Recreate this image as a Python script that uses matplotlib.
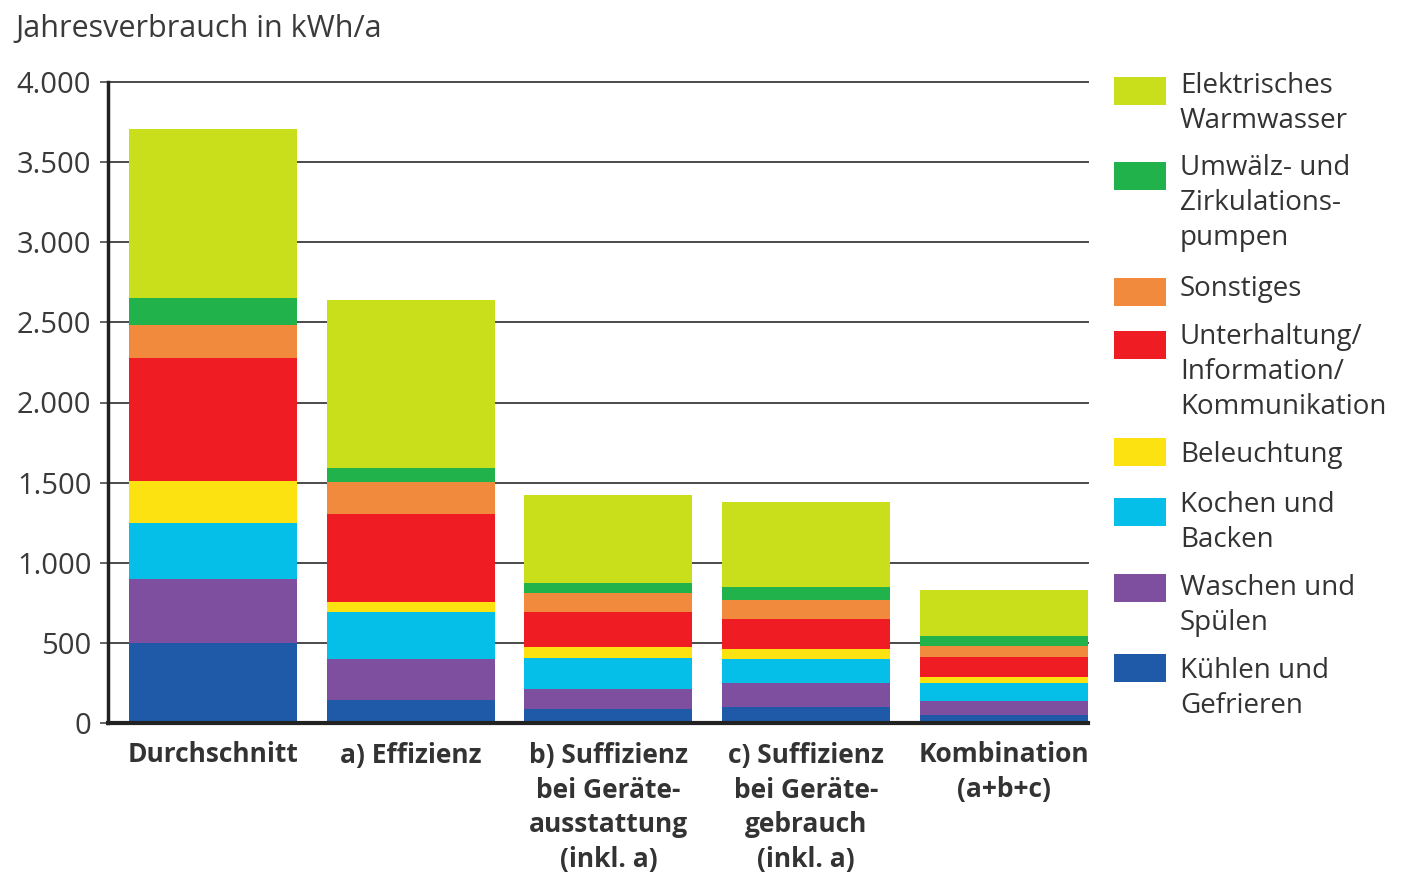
import matplotlib
matplotlib.use("Agg")
import matplotlib.pyplot as plt
from matplotlib.patches import Rectangle
from matplotlib.transforms import blended_transform_factory
import numpy as np

plt.rcParams['font.family'] = ['Open Sans', 'DejaVu Sans']

# Szenarien (x-Achse)
categories = [
    "Durchschnitt",
    "a) Effizienz",
    "b) Suffizienz\nbei Geräte-\nausstattung\n(inkl. a)",
    "c) Suffizienz\nbei Geräte-\ngebrauch\n(inkl. a)",
    "Kombination\n(a+b+c)",
]

# Verbrauch je Anwendung in kWh/a (von unten nach oben gestapelt)
kuehlen = [500, 145, 85, 100, 50]
waschen = [400, 255, 130, 150, 88]
kochen = [345, 290, 190, 150, 110]
beleuchtung = [265, 65, 70, 60, 40]
unterhaltung = [765, 550, 215, 190, 125]
sonstiges = [210, 200, 120, 115, 68]
umwaelz = [170, 85, 65, 85, 60]
warmwasser = [1050, 1050, 550, 530, 290]

series_labels = [
    "Kühlen und\nGefrieren",
    "Waschen und\nSpülen",
    "Kochen und\nBacken",
    "Beleuchtung",
    "Unterhaltung/\nInformation/\nKommunikation",
    "Sonstiges",
    "Umwälz- und\nZirkulations-\npumpen",
    "Elektrisches\nWarmwasser",
]
series_values = [kuehlen, waschen, kochen, beleuchtung, unterhaltung,
                 sonstiges, umwaelz, warmwasser]
series_colors = ["#1f5aa9", "#7e4f9f", "#05bfe8", "#fde212", "#ef1c24",
                 "#f18a3c", "#21b24b", "#c9df1c"]

yticks = [0, 500, 1000, 1500, 2000, 2500, 3000, 3500, 4000]
ytick_labels = ["0", "500", "1.000", "1.500", "2.000", "2.500", "3.000",
                "3.500", "4.000"]

W, H = 1409, 874
fig = plt.figure(figsize=(W / 100, H / 100), dpi=100)
ax = fig.add_axes([108 / W, 1 - 723 / H, (1088 - 108) / W, (723 - 82) / H])

x = np.arange(len(categories))
bottom = np.zeros(len(categories))
for vals, col in zip(series_values, series_colors):
    ax.bar(x, vals, width=0.85, bottom=bottom, color=col, zorder=3,
           linewidth=0)
    bottom += np.array(vals)

ax.set_xlim(-0.53, 4.425)
ax.set_ylim(0, 4000)

for yv in yticks[1:]:
    ax.axhline(yv, color="#4a4a4a", linewidth=1.4, zorder=1, clip_on=False)

ax.set_yticks(yticks)
ax.set_yticklabels(ytick_labels, fontsize=21, color="#3a3a3a")
ax.tick_params(axis="y", direction="out", length=6, width=1.2,
               color="#4a4a4a", pad=6)
ax.set_xticks([])

for side in ("top", "right"):
    ax.spines[side].set_visible(False)
for side, lw in (("left", 2.5), ("bottom", 3)):
    ax.spines[side].set_linewidth(lw)
    ax.spines[side].set_color("#222222")
    ax.spines[side].set_zorder(4)

# Kategorienbeschriftung unter den Balken, zeilenweise gesetzt
line_px = 35
xlab_tf = blended_transform_factory(ax.transData, fig.transFigure)
for xi, cat in zip(x, categories):
    for i, line in enumerate(cat.split("\n")):
        ypix = 755 + i * line_px
        ax.text(xi, 1 - ypix / H, line, transform=xlab_tf,
                ha="center", va="center", fontsize=19, fontweight="bold",
                color="#333333")

# Achsentitel
fig.text(15 / W, 1 - 29 / H, "Jahresverbrauch in kWh/a", fontsize=22,
         color="#3a3a3a", ha="left", va="center")

# Legende (oberste Kategorie zuerst)
sq_centers = [668, 588, 512, 452, 345, 292, 176, 91]
text_tops = [671, 588, 505, 455, 337, 289, 168, 86]
for lab, col, yc, yt in zip(series_labels, series_colors, sq_centers,
                            text_tops):
    fig.add_artist(Rectangle((1114 / W, 1 - (yc + 14) / H), 52 / W, 28 / H,
                             transform=fig.transFigure, facecolor=col,
                             edgecolor="none"))
    for i, line in enumerate(lab.split("\n")):
        ypix = yt + i * line_px
        fig.text(1180 / W, 1 - ypix / H, line, fontsize=20, color="#333333",
                 ha="left", va="center")

fig.savefig("out.png", dpi=100, facecolor="white")
